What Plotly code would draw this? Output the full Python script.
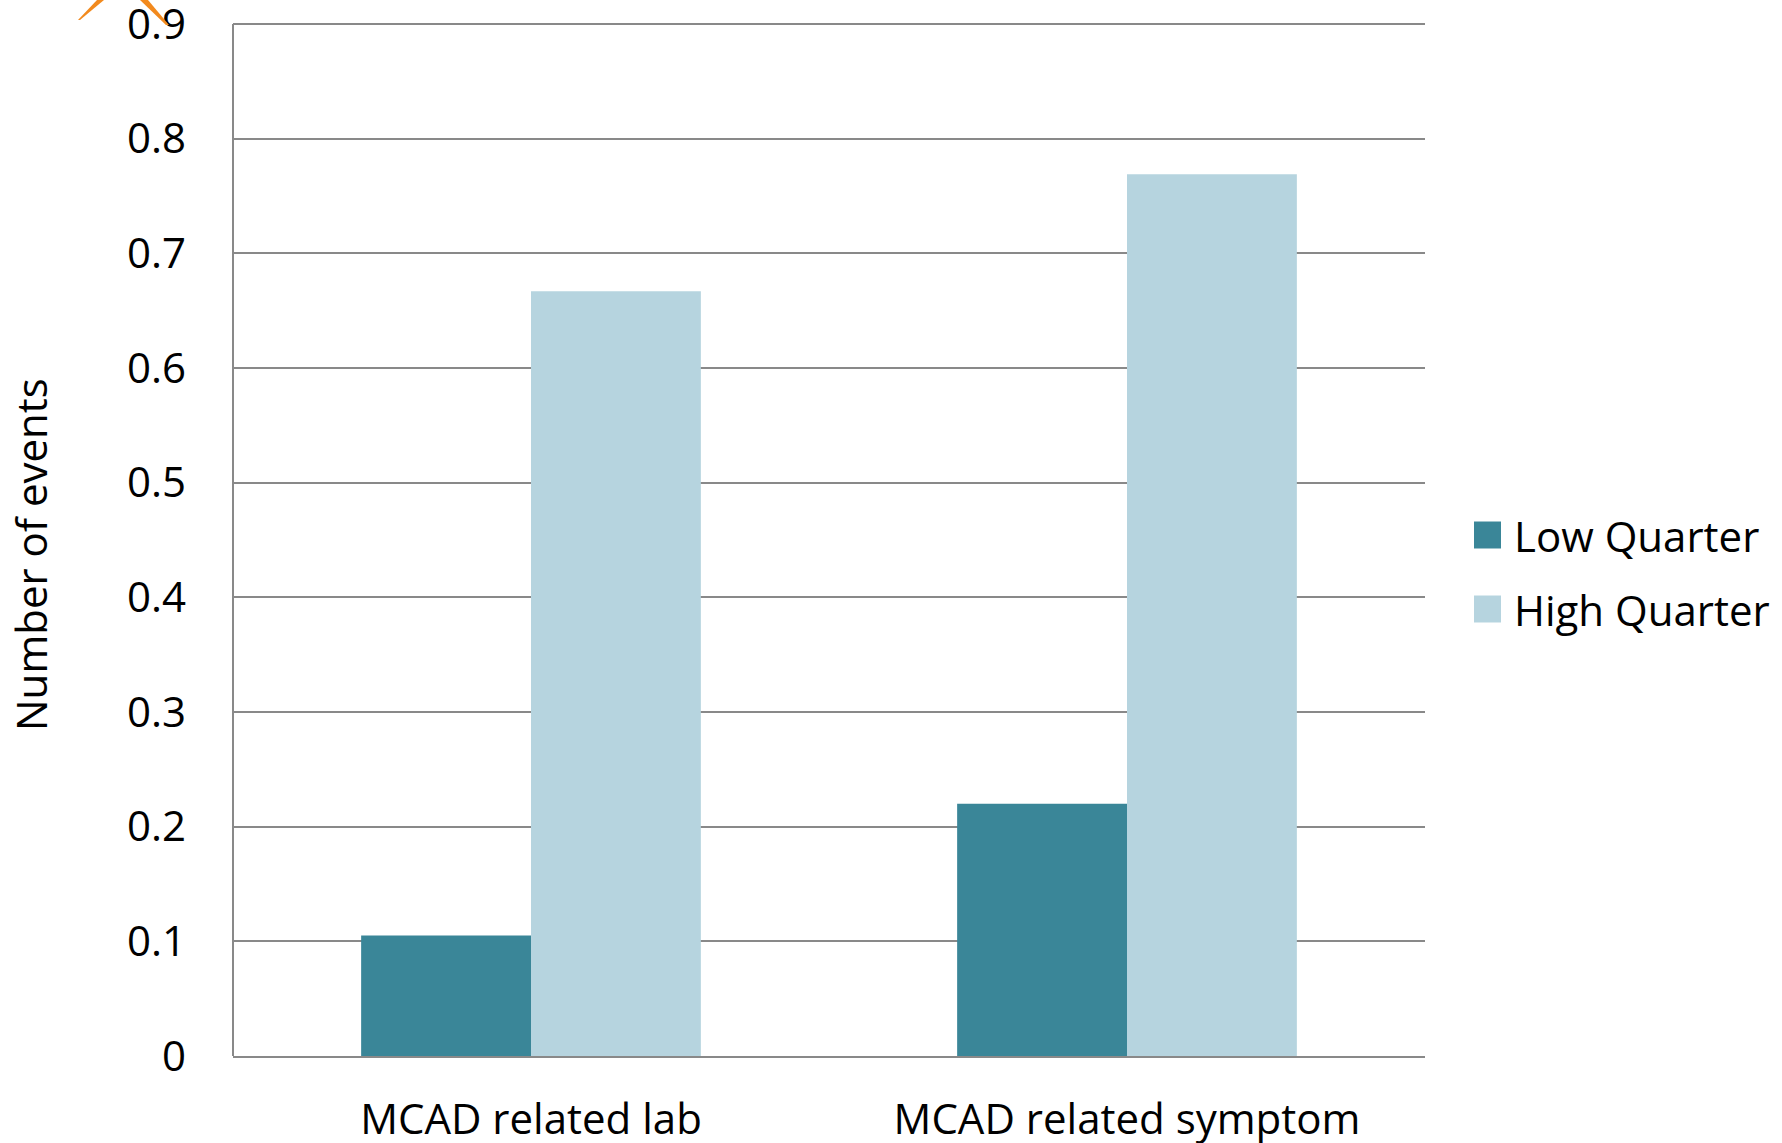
import plotly.graph_objects as go

# Chart data
categories = ["MCAD related lab", "MCAD related symptom"]
low_quarter = [0.105, 0.22]
high_quarter = [0.667, 0.769]
series_names = ["Low Quarter", "High Quarter"]
y_ticks = [0, 0.1, 0.2, 0.3, 0.4, 0.5, 0.6, 0.7, 0.8, 0.9]
y_max = 0.9

LOW_COLOR = "#3A8698"
HIGH_COLOR = "#B6D4DF"
GRID_COLOR = "#898989"
FONT = "Open Sans"
FS = 42

W, H = 1782, 1143
L, R, T, B = 233, 357, 18, 87
plot_w = W - L - R
plot_h = H - T - B
# value scale: 0.9 sits at 24px from the top edge
unit_px = (H - B - 24) / y_max
y_top = plot_h / unit_px


def px_to_paper(px, py):
    return (px - L) / plot_w, (H - B - py) / plot_h


fig = go.Figure()
fig.add_trace(go.Bar(x=categories, y=low_quarter, name=series_names[0],
                     marker=dict(color=LOW_COLOR, line=dict(width=0)),
                     showlegend=False))
fig.add_trace(go.Bar(x=categories, y=high_quarter, name=series_names[1],
                     marker=dict(color=HIGH_COLOR, line=dict(width=0)),
                     showlegend=False))

shapes = []
annotations = []

# Vertical axis line, from 0 up to the top gridline
shapes.append(dict(type="line", xref="paper", yref="y", x0=0, x1=0, y0=0, y1=y_max,
                   line=dict(color=GRID_COLOR, width=2), layer="above"))

# Legend drawn beside the plot: swatches and labels
legend_rows = [(series_names[0], LOW_COLOR, 535), (series_names[1], HIGH_COLOR, 609)]
for name, color, cy in legend_rows:
    x0, y0 = px_to_paper(1474, cy + 13.5)
    x1, y1 = px_to_paper(1501, cy - 13.5)
    shapes.append(dict(type="rect", xref="paper", yref="paper",
                       x0=x0, y0=y0, x1=x1, y1=y1,
                       fillcolor=color, line=dict(width=0)))
    tx, ty = px_to_paper(1512, cy)
    annotations.append(dict(text=name, xref="paper", yref="paper", x=tx, y=ty,
                            xanchor="left", yanchor="middle", showarrow=False,
                            font=dict(family=FONT, size=FS, color="black")))

# Axis title
tx, ty = px_to_paper(31, 555)
annotations.append(dict(text="Number of events", xref="paper", yref="paper",
                        x=tx, y=ty, textangle=-90, xanchor="center", yanchor="middle",
                        showarrow=False, font=dict(family=FONT, size=FS, color="black")))

# Orange decorative strokes at the top-left corner
def poly(points):
    pts = [px_to_paper(x, y) for x, y in points]
    return "M" + " L".join(f"{x:.5f},{y:.5f}" for x, y in pts) + " Z"

for pts in ([(78, 20), (97, 0), (104, 0), (80, 20)],
            [(140, 0), (148, 0), (169, 25), (166, 25)]):
    shapes.append(dict(type="path", xref="paper", yref="paper", path=poly(pts),
                       fillcolor="#F28A1E", line=dict(width=0), layer="above"))

fig.update_layout(
    width=W, height=H,
    margin=dict(l=L, r=R, t=T, b=B, autoexpand=False),
    paper_bgcolor="white", plot_bgcolor="white",
    barmode="group", bargap=0.43, bargroupgap=0,
    font=dict(family=FONT, size=FS, color="black"),
    shapes=shapes, annotations=annotations,
    showlegend=False,
)
fig.update_xaxes(showgrid=False, showline=True, linecolor=GRID_COLOR, linewidth=2,
                 ticks="", ticklabelstandoff=26, ticklabeloverflow="allow",
                 tickfont=dict(family=FONT, size=FS, color="black"))
fig.update_yaxes(range=[0, y_top], tickvals=y_ticks, showgrid=True, gridcolor=GRID_COLOR,
                 gridwidth=2, showline=False, zeroline=False, ticks="",
                 ticklabelstandoff=46, ticklabeloverflow="allow",
                 tickfont=dict(family=FONT, size=FS, color="black"))

fig.write_html("out.html")
